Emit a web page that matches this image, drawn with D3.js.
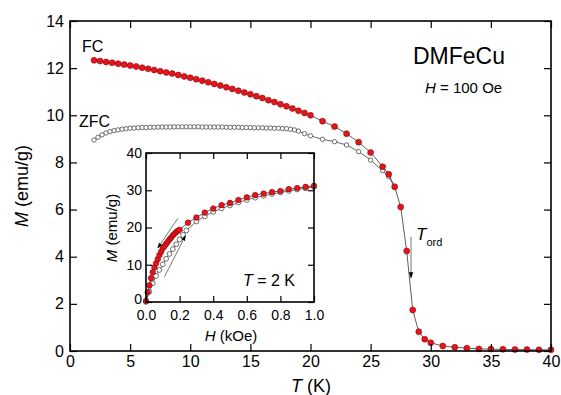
<!DOCTYPE html>
<html>
<head>
<meta charset="utf-8">
<script src="https://cdn.jsdelivr.net/npm/d3@7"></script>
<style>
  body { margin: 0; background: #fff; }
  svg { font-family: "Liberation Sans", Arial, sans-serif; }
  .axis path, .axis line { stroke: #000; }
</style>
</head>
<body>
<svg id="chart" width="561" height="395"></svg>
<script>
// main panel: M(T), FC and ZFC at H = 100 Oe
const fcT = [2, 2.5, 3, 3.5, 4, 4.5, 5, 5.5, 6, 6.5, 7, 7.5, 8, 8.5, 9, 9.5, 10, 10.5,
  11, 11.5, 12, 12.5, 13, 13.5, 14, 14.5, 15, 15.5, 16, 16.5, 17, 17.5, 18, 18.5, 19, 19.5, 20,
  21, 22, 23, 24, 25, 26, 26.5, 27, 27.5, 28, 28.5, 29, 29.5, 30, 31, 32, 33, 34, 35, 36, 37, 38, 39, 40];
const fcM = [12.33, 12.30, 12.26, 12.23, 12.19, 12.15, 12.11, 12.07, 12.02, 11.97, 11.92, 11.87,
  11.82, 11.77, 11.71, 11.65, 11.59, 11.53, 11.47, 11.40, 11.33, 11.26, 11.19, 11.12, 11.04,
  10.97, 10.89, 10.81, 10.73, 10.64, 10.56, 10.47, 10.38, 10.29, 10.19, 10.10, 10.00,
  9.75, 9.52, 9.22, 8.86, 8.42, 7.82, 7.50, 6.97, 6.11, 4.24, 1.74, 0.82, 0.50, 0.35,
  0.21, 0.16, 0.12, 0.09, 0.08, 0.07, 0.06, 0.06, 0.05, 0.05];

const zfcT = [2, 2.33, 2.67, 3, 3.33, 3.67, 4, 4.33, 4.67, 5, 5.33, 5.67, 6, 6.33, 6.67, 7,
  7.33, 7.67, 8, 8.33, 8.67, 9, 9.33, 9.67, 10, 10.33, 10.67, 11, 11.33, 11.67, 12, 12.33,
  12.67, 13, 13.33, 13.67, 14, 14.33, 14.67, 15, 15.33, 15.67, 16, 16.33, 16.67, 17, 17.33,
  17.67, 18, 18.33, 18.67, 19, 19.5, 20, 21, 22, 23, 24, 25, 26, 26.5, 27];
const zfcM = [8.95, 9.07, 9.17, 9.25, 9.31, 9.35, 9.38, 9.41, 9.43, 9.45, 9.46, 9.47, 9.48,
  9.48, 9.49, 9.49, 9.50, 9.50, 9.50, 9.50, 9.51, 9.51, 9.51, 9.51, 9.51, 9.51, 9.51, 9.50,
  9.50, 9.50, 9.50, 9.50, 9.50, 9.49, 9.49, 9.49, 9.49, 9.48, 9.48, 9.48, 9.47, 9.47, 9.47,
  9.46, 9.46, 9.45, 9.45, 9.44, 9.43, 9.41, 9.38, 9.33, 9.22, 9.13, 8.98, 8.88, 8.74, 8.46,
  8.10, 7.65, 7.40, 6.95];

// inset: M(H) at T = 2 K, decreasing (red) and increasing (open) field
const decH = [0, 0.01, 0.02, 0.03, 0.04, 0.05, 0.06, 0.07, 0.08, 0.09, 0.10, 0.11, 0.12, 0.13,
  0.14, 0.15, 0.16, 0.17, 0.18, 0.19, 0.20, 0.25, 0.30, 0.35, 0.40, 0.45, 0.50, 0.55, 0.60,
  0.65, 0.70, 0.75, 0.80, 0.85, 0.90, 0.95, 1.00];
const decM = [0.3, 2.6, 4.5, 6.4, 8.0, 9.3, 10.4, 11.5, 12.6, 13.5, 14.4, 15.0, 15.6, 16.2,
  16.8, 17.3, 17.9, 18.3, 18.8, 19.1, 19.4, 21.3, 22.7, 24.0, 25.1, 26.0, 26.6, 27.4, 28.1,
  28.7, 29.1, 29.5, 29.8, 30.3, 30.6, 30.9, 31.2];
const incH = [0, 0.02, 0.04, 0.06, 0.08, 0.10, 0.12, 0.14, 0.16, 0.18, 0.20, 0.22, 0.24,
  0.30, 0.35, 0.40, 0.45, 0.50, 0.55, 0.60, 0.65, 0.70, 0.75, 0.80, 0.85, 0.90, 0.95, 1.00];
const incM = [0, 2.8, 5.0, 7.0, 8.6, 10.1, 11.6, 12.9, 14.2, 15.5, 16.8, 18.0, 19.2,
  21.6, 23.0, 24.2, 25.1, 25.9, 26.7, 27.4, 28.0, 28.5, 29.0, 29.4, 29.8, 30.2, 30.5, 30.9];

const mainXTicks = [0, 5, 10, 15, 20, 25, 30, 35, 40];
const mainYTicks = [0, 2, 4, 6, 8, 10, 12, 14];
const insetXTicks = [0, 0.2, 0.4, 0.6, 0.8, 1.0];
const insetYTicks = [0, 10, 20, 30, 40];

const svg = d3.select('#chart');
const red = '#e8141b';

function zip(a, b) { return a.map((v, i) => [v, b[i]]); }

function frame(g, x, y, xt, yt, fmt, size, fs, padX, padY) {
  const [x0, x1] = x.range();
  const [y0, y1] = y.range();
  g.append('g').attr('class', 'axis').attr('transform', `translate(0,${y0})`)
    .call(d3.axisBottom(x).tickValues(xt).tickSize(-size).tickPadding(padX).tickFormat(fmt))
    .call(a => a.selectAll('text').attr('font-size', fs).attr('fill', '#000'));
  g.append('g').attr('class', 'axis').attr('transform', `translate(0,${y1})`)
    .call(d3.axisTop(x).tickValues(xt).tickSize(-size).tickFormat(''));
  g.append('g').attr('class', 'axis').attr('transform', `translate(${x0},0)`)
    .call(d3.axisLeft(y).tickValues(yt).tickSize(-size).tickPadding(padY))
    .call(a => a.selectAll('text').attr('font-size', fs).attr('fill', '#000'));
  g.append('g').attr('class', 'axis').attr('transform', `translate(${x1},0)`)
    .call(d3.axisRight(y).tickValues(yt).tickSize(-size).tickFormat(''));
  g.selectAll('.axis line').attr('stroke-width', 1.2);
  g.selectAll('.axis .domain').remove();
  g.append('rect').attr('x', x0).attr('y', y1).attr('width', x1 - x0).attr('height', y0 - y1)
    .attr('fill', 'none').attr('stroke', '#000').attr('stroke-width', 1.6);
}

function series(g, pts, x, y, r, fill, lineCol) {
  const line = d3.line().x(d => x(d[0])).y(d => y(d[1]));
  g.append('path').datum(pts).attr('d', line)
    .attr('fill', 'none').attr('stroke', lineCol).attr('stroke-width', 0.8);
  g.append('g').selectAll('circle').data(pts).enter().append('circle')
    .attr('cx', d => x(d[0])).attr('cy', d => y(d[1])).attr('r', r)
    .attr('fill', fill === 'none' ? '#fff' : fill)
    .attr('stroke', fill === 'none' ? '#333' : '#6a0000')
    .attr('stroke-width', fill === 'none' ? 0.7 : 0.5);
}

// ---- main panel
const x = d3.scaleLinear().domain([0, 40]).range([70, 551]);
const y = d3.scaleLinear().domain([0, 14]).range([351, 21]);
const main = svg.append('g');

series(main, zip(zfcT, zfcM), x, y, 2.2, 'none', '#444');
series(main, zip(fcT, fcM), x, y, 3, red, '#333');
frame(main, x, y, mainXTicks, mainYTicks, d3.format('d'), 7, 16, 5, 6);

main.append('text').attr('x', 82).attr('y', 52).attr('font-size', 16).text('FC');
main.append('text').attr('x', 79).attr('y', 127).attr('font-size', 16).text('ZFC');
main.append('text').attr('x', 413).attr('y', 64).attr('font-size', 23).text('DMFeCu');
main.append('text').attr('x', 425).attr('y', 93).attr('font-size', 15)
  .html('<tspan font-style="italic">H</tspan> = 100 Oe');

main.append('text').attr('x', 311).attr('y', 392).attr('font-size', 18).attr('text-anchor', 'middle')
  .html('<tspan font-style="italic">T</tspan> (K)');
main.append('text').attr('transform', 'translate(28,186) rotate(-90)').attr('font-size', 18)
  .attr('text-anchor', 'middle')
  .html('<tspan font-style="italic">M</tspan> (emu/g)');

// T_ord arrow
svg.append('defs').append('marker').attr('id', 'ah').attr('viewBox', '0 0 10 10')
  .attr('refX', 9).attr('refY', 5).attr('markerWidth', 7).attr('markerHeight', 7)
  .attr('orient', 'auto-start-reverse')
  .append('path').attr('d', 'M0,1.5 L10,5 L0,8.5 Z').attr('fill', '#000');
main.append('line').attr('x1', x(28.36)).attr('y1', y(4.85)).attr('x2', x(28.36)).attr('y2', y(3.1))
  .attr('stroke', '#666').attr('stroke-width', 0.9).attr('marker-end', 'url(#ah)');
main.append('text').attr('x', 416).attr('y', 240).attr('font-size', 17)
  .html('<tspan font-style="italic">T</tspan><tspan font-size="11" dy="6">ord</tspan>');

// ---- inset
const ix = d3.scaleLinear().domain([0, 1]).range([146, 314]);
const iy = d3.scaleLinear().domain([0, 40]).range([302, 153]);
const inset = svg.append('g');
inset.append('rect').attr('x', 146).attr('y', 153).attr('width', 168).attr('height', 149).attr('fill', '#fff');
const clip = inset.append('g');
series(clip, zip(incH, incM), ix, iy, 2.4, 'none', '#444');
series(clip, zip(decH, decM), ix, iy, 2.8, red, '#333');
frame(inset, ix, iy, insetXTicks, insetYTicks, d3.format('.1f'), 6, 14, 8, 4);
// lift the y "0" label a touch so it clears the x "0.0" label
inset.selectAll('.axis text').filter(function () { return this.textContent === '0'; })
  .attr('dy', '0.1em');

inset.append('line').attr('x1', ix(0.19)).attr('y1', iy(22.5)).attr('x2', ix(0.07)).attr('y2', iy(14.5))
  .attr('stroke', '#555').attr('stroke-width', 0.8).attr('marker-end', 'url(#ah)');
inset.append('line').attr('x1', ix(0.11)).attr('y1', iy(6.8)).attr('x2', ix(0.235)).attr('y2', iy(17.8))
  .attr('stroke', '#555').attr('stroke-width', 0.8).attr('marker-end', 'url(#ah)');

inset.append('text').attr('x', 243).attr('y', 286).attr('font-size', 16)
  .html('<tspan font-style="italic">T</tspan> = 2 K');
inset.append('text').attr('x', 231).attr('y', 341).attr('font-size', 15).attr('text-anchor', 'middle')
  .html('<tspan font-style="italic">H</tspan> (kOe)');
inset.append('text').attr('transform', 'translate(117,228) rotate(-90)').attr('font-size', 15)
  .attr('text-anchor', 'middle')
  .html('<tspan font-style="italic">M</tspan> (emu/g)');
</script>
</body>
</html>
